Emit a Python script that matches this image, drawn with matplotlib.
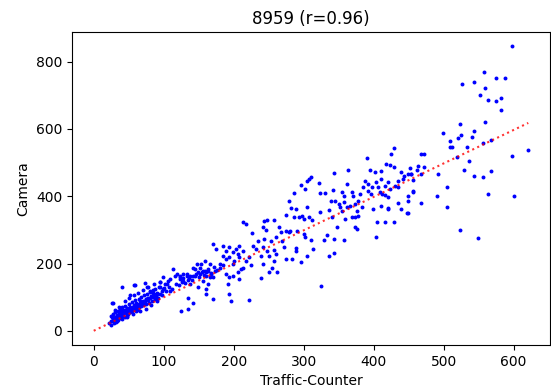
import numpy as np
import matplotlib
matplotlib.use('Agg')
from matplotlib import pyplot as plt

# Traffic-Counter vs Camera counts
# dense cluster (low counts)
x_low = [22,24,25,26,27,28,28,29,30,30,31,32,33,33,34,35,35,36,37,38,38,39,40,40,41,42,43,44,45,45,
         46,47,48,49,50,50,51,52,53,54,55,56,57,58,59,60,60,61,62,63,64,65,66,67,68,69,70,71,72,73,
         74,75,76,77,78,79,80,81,82,83,84,85,86,87,88,89,90,92,93,95,97,98,100,
         35,42,55,65,75,85,47,52,62,72,
         27.9,51.4,40.6,58,59.5,73.7,76,80.7,26.5,
         30,36,44,50,57,63,70,78,86,94,32,41,48,56,66,74,82,90,25,38]
y_low = [22,30,18,40,28,35,50,24,42,32,55,38,28,48,60,40,33,52,45,38,65,50,44,58,70,48,55,40,62,75,
         52,58,68,50,80,62,56,72,64,85,60,70,78,66,92,72,58,84,76,68,95,80,88,74,100,82,90,76,105,86,
         94,80,110,92,98,84,115,96,104,90,120,100,108,94,125,104,112,98,130,110,118,105,128,
         48,62,68,72,95,112,45,55,62,80,
         84,107,129,137,136,141,129,119,84,
         62,72,88,98,105,112,122,130,140,145,25,35,42,50,58,66,78,88,45,58]

# middle range
x_mid = [94.9,102,99.6,106.7,109,116,123.2,125.6,137.4,142,144.5,149,156.2,161,163.3,165.7,161,191.6,194,
         113.7,124.6,135,142,135,149,161,163.3,99.6,109,104.4,95,90.2,118.6,128,132.7,123.2,154,158.6,
         103,108,112,118,122,127,131,136,140,146,150,155,158,163,168,172,176,180,185,
         170,196,222.4,
         213,217.6,225.6,241.2,246.9,243.6,248.3,257.8,265,274.4,279,267.3,234.1,243.6,253,260,269.6,
         241.2,231.8,227,248.3,239,257.8,260,250.7,272,257.8,274.4,
         170.4,175.2,184.6,189.4,194,199,203.5,205.8,208.2,213,
         184.6,189.4,194,201,208.2,217.7,222.4,
         179.9,198.7,213,224.8,241.2,255.4,262.5,250.7,205.8,210.6,239,
         146.9,151.6,156.2,158.6,165.7,142,132.7,144.5,151.6,161,168.1,172.8,
         123.2,127.9,135,137.4,170.4,189.4,194,199,208.2,275.2]
y_mid = [143.8,139,124,148.8,119,163.7,158.7,143.8,139,163.7,183.6,173.5,148.8,163.7,183.6,158.7,124,139,109,
         183.6,59.5,64.6,84,97,129,109,139,158.7,153.8,139,129,109,168.7,168.7,163.7,153.8,198.5,178.6,
         118,130,125,140,135,148,142,158,150,168,160,175,165,178,172,190,182,200,195,
         95,89,92,
         324,317.5,289.6,307.5,299.6,327.4,329.5,329.5,307.5,297.6,292.6,292.6,267.9,272.8,267.9,277.8,267.9,
         248,243,253,238,223,240,228,223,248,208,213,
         258,243,253,238,248,233,243,228,253,238,
         223,213,218,208,218,208,218,
         188,198,188,196,198,188,173.5,173.5,173.5,183.6,156.7,
         198,188,178,208,198,188,168.7,163.7,168.7,173.5,168.7,178.6,
         163.7,156.7,150.9,163.7,158.7,168.7,158.7,163.7,153.8,344.3]

# upper range
x_high = [429,425.4,390.5,417,423,429,364,343.8,394.7,439.5,401.8,411,444,453.7,309.8,305,307.4,321.5,295.6,
          302.5,361.6,387.7,392.4,397,385.3,411,420.7,430,416,404,406.4,408.8,392.4,396,434.8,442,456,
          434.8,423,420.7,416,412.6,286.5,331,341.4,324,354.5,357,369,371,380.6,
          339.5,345,350,357,352,354.5,361.6,366.4,373.5,378.2,434.8,449,439.5,420.7,411,399.4,383,375.8,
          335.7,323,279,281.4,288.4,293.2,300.3,297.9,305,307.4,286.1,312,340.4,359.3,368.7,373.5,378.2,
          405.5,416,429,447.6,420.7,347.4,373.5,375.8,280,290.8,300.3,302.5,311,328.6,343.8,357,333.8,404,
          288.5,289.4,313,283.7,295.6,305,335.7,343.8,324.4,
          598,557.6,527,543.5,575.5,588,559.5,551.5,563.7,575.5,582,582,523,559.5,498.6,543.5,508.5,520.8,
          525,541,508.5,512.7,533,555.7,567.6,621,598,519,537,468,471.7,451.8,464,471.7,461.8,449,453.7,
          468,455.6,492.4,529,543.5,555.7,567.6,504.7,455.6,449,490.5,563.3,600,468,504.7,449,523,549]
y_high = [543.6,526,513,496,493,486,478,469,478,473,471,474,461,466,458,446,451.5,439.5,434.5,
          421.7,436.6,446.4,436.6,426.6,426.6,451.5,441.5,431.5,431.5,441.5,426.6,411.7,416.7,406.8,446,451.5,416.7,
          426.6,421.7,398.8,404.8,406.8,409.6,409.6,418.6,408.7,413.7,401.8,411.7,401.8,406.8,
          385,387,377,382,367,357,367,372,377,387,379,387,362,362,370,362,367,357,
          359,352,387,364,362,337,332,342,367,337,337,329.5,337,332,337,337,342,
          324,324,324,351,364,308,308,303,297.6,296.6,287.7,280,270,270,273,270,285.7,277.8,
          245,236,243,213,203,223,221,231,134,
          846,768.8,735,739,752,752,722,700,687.5,683.6,692.5,657.7,615,620,589,594,564.5,572.5,
          581,576,546.7,546.7,546.7,559.5,568.5,538.7,521,518,504,526,526,483,491,486,478,466,466,
          466,448,465,478,460,456,474,426.6,413.7,402,402,405.7,402,380,367,350,298.5,276.8]

fit_slope = 0.995  # slope of the red dotted fit line
title = '8959 (r=0.96)'

x = np.array(x_low + x_mid + x_high)
y = np.array(y_low + y_mid + y_high)

fig = plt.figure(figsize=(5.51, 3.89), dpi=100)
ax = fig.add_axes([72/551, 1-345/389, (550-72)/551, (345-32)/389])
ax.scatter(x, y, s=8, c='blue', linewidths=0)
xl = np.array([0, x.max()])
ax.plot(xl, fit_slope*xl, ':', color='red', alpha=0.8, lw=1.5)
ax.set_title(title)
ax.set_xlabel('Traffic-Counter')
ax.set_ylabel('Camera')
fig.savefig('out.png', dpi=100)
